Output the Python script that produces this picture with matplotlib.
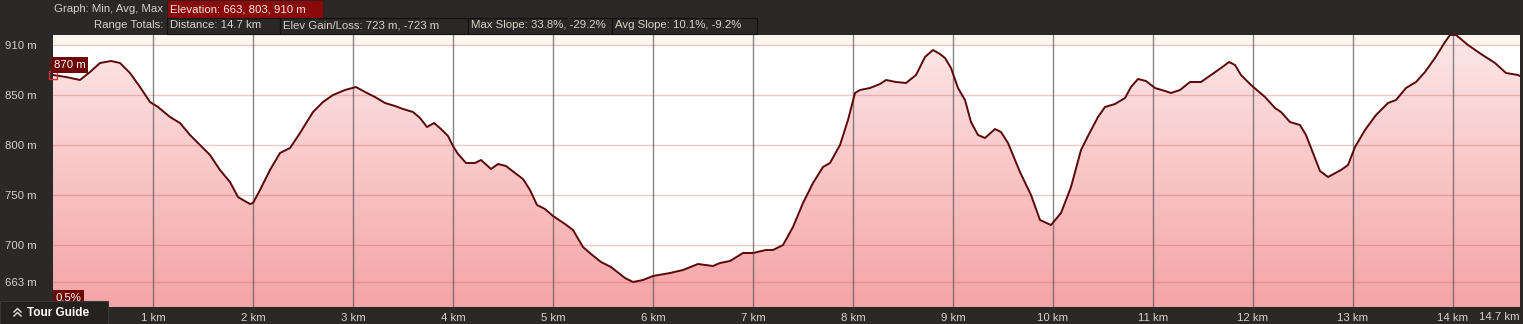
import numpy as np
import matplotlib.pyplot as plt
from matplotlib.patches import Rectangle, Polygon
from matplotlib.lines import Line2D

plt.rcParams['font.family'] = ['Liberation Sans', 'DejaVu Sans']

# distance along the track (km) and elevation (m)
dist_km = [0.00, 0.13, 0.27, 0.37, 0.47, 0.58, 0.67, 0.77, 0.87, 0.97, 1.05, 1.17, 1.27, 1.37,
           1.47, 1.57, 1.67, 1.77, 1.85, 1.90, 1.97, 2.00, 2.07, 2.17, 2.27, 2.37, 2.47, 2.60,
           2.70, 2.80, 2.92, 3.03, 3.12, 3.22, 3.32, 3.42, 3.50, 3.60, 3.67, 3.74, 3.81, 3.88,
           3.95, 4.00, 4.05, 4.13, 4.22, 4.28, 4.38, 4.45, 4.53, 4.62, 4.70, 4.77, 4.84, 4.92,
           5.00, 5.12, 5.20, 5.30, 5.38, 5.48, 5.58, 5.72, 5.80, 5.90, 6.00, 6.17, 6.30, 6.45,
           6.60, 6.67, 6.77, 6.90, 7.00, 7.13, 7.20, 7.30, 7.40, 7.50, 7.60, 7.70, 7.77, 7.87,
           7.95, 8.02, 8.07, 8.17, 8.27, 8.33, 8.43, 8.53, 8.63, 8.72, 8.80, 8.87, 8.92, 8.98,
           9.05, 9.12, 9.18, 9.25, 9.32, 9.42, 9.48, 9.55, 9.67, 9.78, 9.87, 9.98, 10.08, 10.18,
           10.28, 10.35, 10.45, 10.52, 10.62, 10.72, 10.78, 10.85, 10.93, 11.02, 11.12, 11.18,
           11.27, 11.37, 11.48, 11.58, 11.68, 11.76, 11.82, 11.88, 11.98, 12.12, 12.22, 12.28,
           12.37, 12.47, 12.53, 12.60, 12.67, 12.75, 12.88, 12.95, 13.02, 13.12, 13.23, 13.35,
           13.43, 13.53, 13.63, 13.72, 13.82, 13.92, 13.97, 14.03, 14.15, 14.28, 14.42, 14.53,
           14.65, 14.67]
elev_m = [870, 868, 865, 873, 882, 884, 882, 872, 858, 843, 838, 828, 822, 810,
          800, 790, 775, 763, 748, 745, 741, 742, 755, 775, 792, 797, 812, 833,
          843, 850, 855, 858, 853, 848, 842, 839, 836, 833, 827, 818, 822, 816,
          809, 799, 791, 782, 782, 785, 776, 781, 779, 772, 766, 755, 740, 736,
          729, 721, 715, 698, 691, 683, 678, 667, 663, 665, 669, 672, 675, 681,
          679, 682, 684, 692, 692, 695, 695, 700, 718, 742, 762, 778, 782, 800,
          825, 852, 855, 857, 861, 865, 863, 862, 870, 888, 895, 891, 887, 877,
          857, 845, 823, 810, 807, 816, 813, 802, 773, 750, 725, 720, 732, 758,
          795, 809, 828, 838, 841, 847, 858, 866, 864, 857, 854, 852,
          855, 863, 863, 870, 877, 883, 880, 870, 860, 848, 837, 833,
          823, 820, 810, 792, 774, 768, 775, 780, 798, 815, 830, 842,
          845, 857, 863, 873, 887, 903, 910, 910, 900, 891, 882, 872,
          870, 869]

ytick_pos = [900, 850, 800, 750, 700, 663]
ytick_labels = ['910 m', '850 m', '800 m', '750 m', '700 m', '663 m']
xtick_pos = list(range(1, 15))
xtick_labels = ['%d km' % k for k in xtick_pos]

header_row1 = [('Elevation: 663, 803, 910 m', 167, 323)]
header_row2 = [('Distance: 14.7 km', 167, 280),
               ('Elev Gain/Loss: 723 m, -723 m', 280, 468),
               ('Max Slope: 33.8%, -29.2%', 468, 612),
               ('Avg Slope: 10.1%, -9.2%', 612, 757)]

W, H = 1523, 324
bg = '#2b2927'
txt = '#d6d2cc'
fs = 8.2

fig = plt.figure(figsize=(W / 100, H / 100), dpi=100, facecolor=bg)


def fx(x):
    return x / W


def fy(y):
    return 1 - y / H


ax = fig.add_axes([fx(53), fy(307), (1520 - 53) / W, 272 / H])
ax.set_facecolor('white')
ax.set_xlim(0, 14.67)
ax.set_ylim(638, 910)
for s in ax.spines.values():
    s.set_visible(False)

# gradient fill under the profile
grad = np.linspace(0, 1, 256).reshape(-1, 1)
top = np.array([252, 232, 232]) / 255
bot = np.array([246, 164, 166]) / 255
img = top + (bot - top) * grad[:, :, None] * np.ones((1, 1, 3))
im = ax.imshow(img, extent=[0, 14.67, 638, 910], origin='upper', aspect='auto', zorder=1)
poly = Polygon(np.column_stack([[0] + dist_km + [dist_km[-1]], [638] + elev_m + [638]]),
               closed=True, transform=ax.transData, facecolor='none', edgecolor='none')
ax.add_patch(poly)
im.set_clip_path(poly)

ax.axhspan(900, 910, color='#fdf6ef', zorder=0)

for v in ytick_pos:
    ax.axhline(v, color='#c85050', alpha=0.3, lw=1, zorder=2)
for k in xtick_pos:
    ax.axvline(k, color='#555555', alpha=0.7, lw=1, zorder=2)

ax.plot(dist_km, elev_m, color='#5a0808', lw=1.4, zorder=3)

ax.set_yticks(ytick_pos)
ax.set_yticklabels(ytick_labels)
ax.set_xticks(xtick_pos)
ax.set_xticklabels(xtick_labels)
ax.tick_params(length=0, colors=txt, labelsize=fs)
ax.tick_params(axis='y', pad=12)
ax.tick_params(axis='x', pad=4)
ax.text(14.67, 632.5, '14.7 km', ha='right', va='top', fontsize=fs, color=txt, clip_on=False)

# start marker and labels
ax.plot([0], [870], marker='s', ms=6, mfc='none', mec='#d83030', mew=1, clip_on=False, zorder=5)
ax.text(0.01, 880, '870 m', ha='left', va='center', fontsize=fs, color='white', zorder=6,
        bbox=dict(boxstyle='square,pad=0.22', fc='#6e0606', ec='none'))
ax.text(0.03, 647, '0.5%', ha='left', va='center', fontsize=fs, color='white', zorder=6,
        bbox=dict(boxstyle='square,pad=0.22', fc='#6e0606', ec='none'))

# header
fig.text(fx(163), fy(9.5), 'Graph: Min, Avg, Max', ha='right', va='center', fontsize=fs, color=txt)
fig.text(fx(163), fy(25.5), 'Range Totals:', ha='right', va='center', fontsize=fs, color=txt)
for label, x0, x1 in header_row1:
    fig.add_artist(Rectangle((fx(x0), fy(18)), fx(x1 - x0), 18 / H, transform=fig.transFigure,
                             fc='#8a0a0a', ec='#3a1a1a', lw=0.8))
    fig.text(fx(x0 + 3), fy(9.5), label, ha='left', va='center', fontsize=fs, color='#f2e6e6')
for label, x0, x1 in header_row2:
    fig.add_artist(Rectangle((fx(x0), fy(34)), fx(x1 - x0), 16 / H, transform=fig.transFigure,
                             fc='#2a2826', ec='#111111', lw=0.8))
    fig.text(fx(x0 + 3), fy(25.5), label, ha='left', va='center', fontsize=fs, color=txt)

# tour guide tab
fig.add_artist(Rectangle((0, 0), fx(108), 23 / H, transform=fig.transFigure,
                         fc='#232221', ec='#3a3836', lw=0.8))
for dy in (0, 4):
    fig.add_artist(Line2D([fx(14), fx(17.5), fx(21)], [fy(316 - dy), fy(312.5 - dy), fy(316 - dy)],
                          transform=fig.transFigure, color='#cfcfcf', lw=1.1))
fig.text(fx(27), fy(313), 'Tour Guide', ha='left', va='center', fontsize=8.5,
         fontweight='bold', color='white')

fig.savefig('out.png', dpi=100, facecolor=bg)
